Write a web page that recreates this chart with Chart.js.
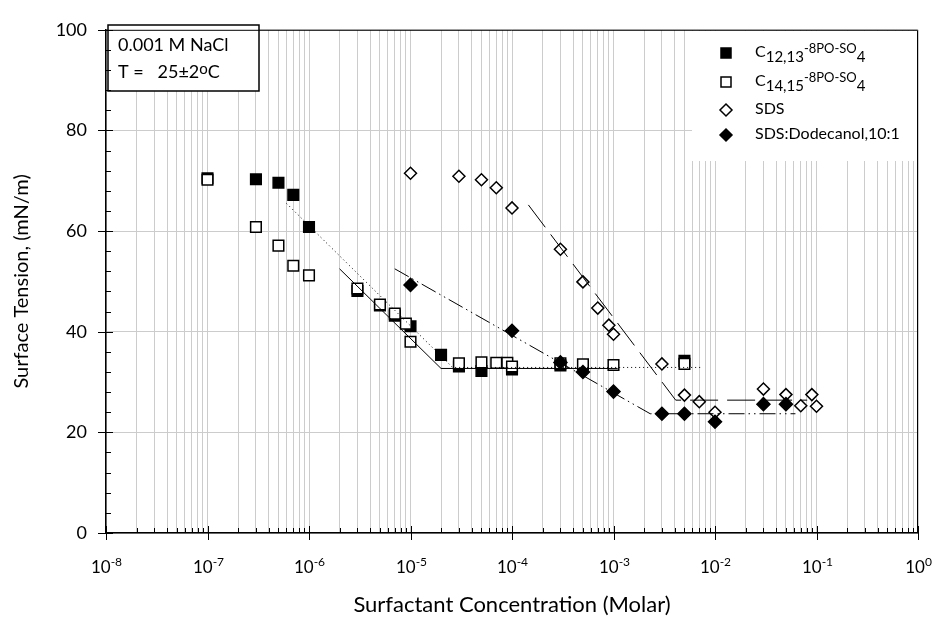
<!DOCTYPE html>
<html>
<head>
<meta charset="utf-8">
<script src="https://cdn.jsdelivr.net/npm/chart.js@4.4.1/dist/chart.umd.min.js"></script>
<style>
  body { margin: 0; background: #fff; }
  #wrap { width: 935px; height: 623px; }
</style>
</head>
<body>
<div id="wrap"><canvas id="chart"></canvas></div>
<script>
const FONT = "Lato, 'Open Sans', sans-serif";

// measured points
const c1213X = [1e-7, 3e-7, 5e-7, 7e-7, 1e-6, 3e-6, 5e-6, 7e-6, 1e-5, 2e-5, 3e-5, 5e-5, 1e-4, 3e-4, 5e-3];
const c1213Y = [70.5, 70.3, 69.6, 67.2, 60.8, 48.1, 45.2, 43.2, 41.1, 35.4, 33.1, 32.2, 32.5, 33.3, 34.2];

const c1415X = [1e-7, 3e-7, 5e-7, 7e-7, 1e-6, 3e-6, 5e-6, 7e-6, 9e-6, 1e-5, 3e-5, 5e-5, 7e-5, 9e-5, 1e-4, 3e-4, 5e-4, 1e-3, 5e-3];
const c1415Y = [70.2, 60.8, 57.1, 53.1, 51.2, 48.6, 45.4, 43.6, 41.6, 38.0, 33.7, 33.9, 33.8, 33.8, 33.1, 33.7, 33.5, 33.4, 33.6];

const sdsX = [1e-5, 3e-5, 5e-5, 7e-5, 1e-4, 3e-4, 5e-4, 7e-4, 9e-4, 1e-3, 3e-3, 5e-3, 7e-3, 1e-2, 3e-2, 5e-2, 7e-2, 9e-2, 1e-1];
const sdsY = [71.5, 70.9, 70.2, 68.6, 64.6, 56.4, 49.9, 44.7, 41.3, 39.5, 33.6, 27.4, 26.1, 24.0, 28.6, 27.5, 25.3, 27.5, 25.2];

const dodX = [1e-5, 1e-4, 3e-4, 5e-4, 1e-3, 3e-3, 5e-3, 1e-2, 3e-2, 5e-2];
const dodY = [49.3, 40.2, 33.9, 32.0, 28.1, 23.7, 23.7, 22.1, 25.6, 25.6];

// fitted trend lines
const fit1213X = [6e-7, 2.6e-5, 7.6e-3];
const fit1213Y = [65.5, 32.9, 32.9];
const fit1415X = [2e-6, 2e-5, 1.1e-3];
const fit1415Y = [52.5, 32.7, 32.7];
const fitSdsX = [1.45e-4, 4.1e-3, 8.1e-2];
const fitSdsY = [65.2, 26.4, 26.4];
const fitDodX = [7e-6, 2.3e-3, 6.2e-2];
const fitDodY = [52.5, 23.7, 23.7];

// legend text pieces: [text, kind]
const legendNames = [
  [['C', 'n'], ['12,13', 'sub'], ['-8PO-SO', 'sup'], ['4', 'sub']],
  [['C', 'n'], ['14,15', 'sub'], ['-8PO-SO', 'sup'], ['4', 'sub']],
  [['SDS', 'n']],
  [['SDS:Dodecanol,10:1', 'n']]
];
const legendMarks = ['fsq', 'osq', 'odi', 'fdi'];
const noteLines = [
  [['0.001 M NaCl', 'n']],
  [['T =   25\u00b12', 'n'], ['o', 'sup'], ['C', 'n']]
];

const xMinExp = -8, xMaxExp = 0;

function pts(xs, ys) { return xs.map((v, i) => ({ x: v, y: ys[i] })); }
function isDecade(v) { const l = Math.log10(v); return Math.abs(l - Math.round(l)) < 1e-9; }

function drawRuns(ctx, runs, x, y, size) {
  ctx.textBaseline = 'middle';
  ctx.textAlign = 'left';
  runs.forEach(([t, k]) => {
    let s = size, dy = 0;
    if (k === 'sub') { s = size - 1; dy = 5; }
    if (k === 'sup') { s = size - 3; dy = -3; }
    ctx.font = s + 'px ' + FONT;
    ctx.fillText(t, x, y + dy);
    x += ctx.measureText(t).width;
  });
}

function drawMark(ctx, kind, cx, cy) {
  ctx.beginPath();
  if (kind === 'fsq' || kind === 'osq') {
    ctx.rect(cx - 5, cy - 5, 10, 10);
  } else {
    ctx.moveTo(cx, cy - 6); ctx.lineTo(cx + 6, cy); ctx.lineTo(cx, cy + 6); ctx.lineTo(cx - 6, cy); ctx.closePath();
  }
  ctx.fillStyle = kind[0] === 'f' ? '#000' : '#fff';
  ctx.fill();
  ctx.lineWidth = 1.5; ctx.strokeStyle = '#000';
  ctx.stroke();
}

const decor = {
  id: 'decor',
  afterDraw(chart) {
    const ctx = chart.ctx, xs = chart.scales.x, ys = chart.scales.y, a = chart.chartArea;
    ctx.save();

    // legend background and entries
    ctx.fillStyle = '#fff';
    ctx.fillRect(692, a.top + 1, a.right - 692 - 1, 160 - a.top);
    const rowY = [53, 82, 110, 135];
    legendNames.forEach((runs, i) => {
      drawMark(ctx, legendMarks[i], 726, rowY[i]);
      ctx.fillStyle = '#000';
      drawRuns(ctx, runs, 755, rowY[i] - 1, 16);
    });

    // note box
    ctx.fillStyle = '#fff';
    ctx.fillRect(108, 25, 151, 66);
    ctx.strokeStyle = '#000'; ctx.lineWidth = 1.5;
    ctx.strokeRect(108, 25, 151, 66);
    ctx.fillStyle = '#000';
    drawRuns(ctx, noteLines[0], 118, 45, 18);
    drawRuns(ctx, noteLines[1], 118, 72, 18);

    // frame top / right
    ctx.strokeStyle = '#000'; ctx.lineWidth = 1;
    ctx.beginPath();
    ctx.moveTo(a.left, a.top + 0.5); ctx.lineTo(a.right - 0.5, a.top + 0.5); ctx.lineTo(a.right - 0.5, a.bottom);
    ctx.stroke();

    // x ticks + labels
    ctx.lineWidth = 1;
    xs.ticks.forEach(t => {
      const px = Math.round(xs.getPixelForValue(t.value)) + 0.5;
      ctx.beginPath();
      if (isDecade(t.value)) { ctx.moveTo(px, a.bottom - 7); ctx.lineTo(px, a.bottom + 7); }
      else { ctx.moveTo(px, a.bottom - 5); ctx.lineTo(px, a.bottom); }
      ctx.stroke();
      if (isDecade(t.value)) {
        const e = String(Math.round(Math.log10(t.value)));
        ctx.font = '17px ' + FONT;
        const w1 = ctx.measureText('10').width;
        ctx.font = '12px ' + FONT;
        const w2 = ctx.measureText(e).width;
        let sx = px - (w1 + w2) / 2;
        ctx.textAlign = 'left'; ctx.textBaseline = 'alphabetic';
        ctx.font = '17px ' + FONT;
        ctx.fillText('10', sx, 573);
        ctx.font = '12px ' + FONT;
        ctx.fillText(e, sx + w1, 566);
      }
    });

    // y ticks
    for (let v = 0; v <= 100; v += 4) {
      const py = Math.round(ys.getPixelForValue(v)) + 0.5;
      ctx.beginPath();
      if (v % 20 === 0) { ctx.moveTo(a.left - 8, py); ctx.lineTo(a.left + 7, py); }
      else { ctx.moveTo(a.left, py); ctx.lineTo(a.left + 5, py); }
      ctx.stroke();
    }
    ctx.restore();
  }
};

const lineStyle = (xs, ys, dash) => ({
  data: pts(xs, ys), showLine: true, pointRadius: 0, borderColor: '#000',
  borderWidth: 1, borderDash: dash, fill: false, tension: 0
});

const mark = (xs, ys, style, filled, r) => ({
  data: pts(xs, ys), showLine: false, pointStyle: style, pointRadius: r,
  backgroundColor: filled ? '#000' : '#fff', borderColor: '#000', borderWidth: 1.5
});

new Chart(document.getElementById('chart'), {
  type: 'scatter',
  data: {
    datasets: [
      lineStyle(fit1213X, fit1213Y, [1, 3]),
      lineStyle(fit1415X, fit1415Y, []),
      lineStyle(fitSdsX, fitSdsY, [28, 9]),
      lineStyle(fitDodX, fitDodY, [16, 4, 1.5, 4, 1.5, 4]),
      mark(dodX, dodY, 'rectRot', true, 6.5),
      mark(c1415X, c1415Y, 'rect', false, 7.5),
      mark(sdsX, sdsY, 'rectRot', false, 6),
      mark(c1213X, c1213Y, 'rect', true, 7.5)
    ]
  },
  options: {
    responsive: true,
    maintainAspectRatio: false,
    animation: false,
    layout: { padding: { left: 0, top: 21, right: 17, bottom: 0 } },
    plugins: { legend: { display: false }, tooltip: { enabled: false } },
    scales: {
      x: {
        type: 'logarithmic',
        min: Math.pow(10, xMinExp), max: Math.pow(10, xMaxExp),
        afterBuildTicks: s => {
          const t = [];
          for (let e = xMinExp; e < xMaxExp; e++) for (let k = 1; k <= 9; k++) t.push({ value: k * Math.pow(10, e) });
          t.push({ value: Math.pow(10, xMaxExp) });
          s.ticks = t;
        },
        afterFit: s => { s.height = 90; },
        ticks: { callback: () => '', autoSkip: false },
        grid: { color: '#cccccc', lineWidth: 1, drawTicks: false },
        border: { color: '#000', width: 1.5 },
        title: {
          display: true, text: 'Surfactant Concentration (Molar)', color: '#000',
          font: { family: FONT, size: 22, lineHeight: 1.2 }, padding: { top: 0, bottom: 5 }
        }
      },
      y: {
        min: 0, max: 100,
        afterFit: s => { s.width = 106; },
        ticks: { stepSize: 20, color: '#000', padding: 19, font: { family: FONT, size: 18 } },
        grid: { color: '#cccccc', lineWidth: 1, drawTicks: false },
        border: { color: '#000', width: 1.5 },
        title: {
          display: true, text: 'Surface Tension, (mN/m)', color: '#000',
          font: { family: FONT, size: 20, lineHeight: 1.2 }, padding: { top: 10, bottom: 0 }
        }
      }
    }
  },
  plugins: [decor]
});
</script>
</body>
</html>
